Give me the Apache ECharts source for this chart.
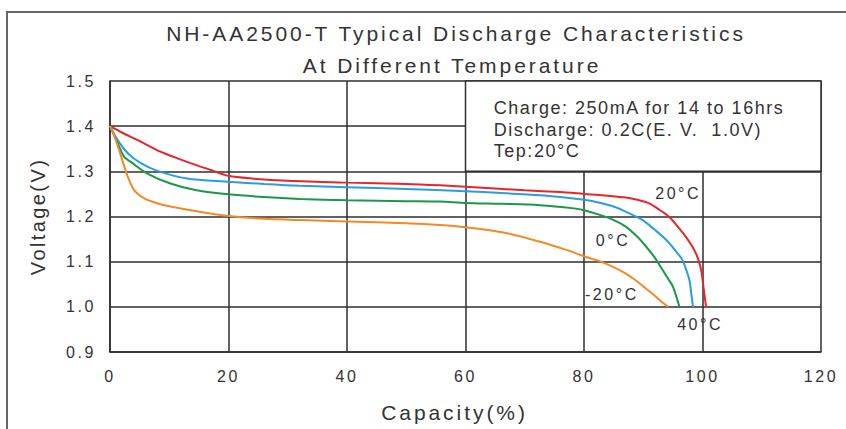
<!DOCTYPE html>
<html><head><meta charset="utf-8">
<script src="https://cdn.jsdelivr.net/npm/echarts@6/dist/echarts.min.js"></script>
<style>html,body{margin:0;padding:0;background:#fff}#c{width:846px;height:429px}</style>
</head><body><div id="c"></div>
<script>
// ---- data (capacity %, voltage V) ----
const xTicks = [0, 20, 40, 60, 80, 100, 120];
const yTicks = [0.9, 1.0, 1.1, 1.2, 1.3, 1.4, 1.5];

const curve20C = [[0,1.40],[2,1.386],[4.7,1.369],[8.6,1.343],[13,1.321],[17,1.303],[20,1.29],[24,1.284],[30,1.279],[40,1.275],[50,1.272],[55.7,1.269],[60,1.266],[70,1.258],[76,1.254],[80,1.25],[84,1.246],[87.1,1.242],[89,1.237],[91,1.229],[92.7,1.215],[94.4,1.199],[96,1.175],[97.2,1.155],[98.2,1.135],[98.9,1.118],[99.4,1.1],[99.8,1.08],[100.1,1.05],[100.4,1.02],[100.6,1.0]];
const curve40C = [[0,1.40],[1.3,1.369],[3,1.34],[5.2,1.318],[8,1.301],[13,1.284],[20,1.277],[26,1.272],[32,1.268],[40,1.265],[50,1.261],[60,1.256],[66,1.252],[72.6,1.247],[76,1.243],[80,1.237],[82.8,1.23],[85,1.222],[87,1.211],[89.9,1.192],[92,1.17],[93.9,1.148],[95.4,1.125],[96.6,1.104],[97.3,1.08],[97.8,1.059],[98.1,1.03],[98.4,1.0]];
const curve0C = [[0,1.40],[1.3,1.362],[2.4,1.332],[3.5,1.321],[6.3,1.295],[10.2,1.273],[14.6,1.258],[20,1.249],[26,1.243],[32,1.239],[40,1.236],[50,1.234],[55.7,1.233],[60,1.23],[66,1.228],[72.6,1.225],[78.3,1.218],[80,1.214],[82.8,1.203],[85,1.192],[87.1,1.177],[89,1.155],[90.5,1.133],[92,1.108],[93.3,1.081],[94.2,1.062],[95,1.045],[95.6,1.022],[96.1,1.0]];
const curveM20C = [[0,1.40],[0.8,1.376],[1.9,1.332],[3,1.288],[4.1,1.258],[5.8,1.24],[7.8,1.23],[10.2,1.222],[15.8,1.209],[20,1.201],[26,1.195],[32,1.192],[40,1.189],[50,1.185],[55.7,1.181],[60,1.176],[67,1.163],[72.6,1.144],[77,1.126],[80,1.112],[82.8,1.1],[85,1.088],[87,1.074],[89,1.056],[90.5,1.04],[92,1.024],[93.2,1.01],[94.2,1.0]];

const seriesNames = ['20°C', '40°C', '0°C', '-20°C'];
const seriesColors = ['#e5262b', '#2a9de2', '#1a9a48', '#f28a26'];
const labelPos = [[95.9, 1.252], [99.6, 0.960], [84.9, 1.146], [84.7, 1.028]];

const titleLines = ['NH-AA2500-T Typical Discharge Characteristics', 'At Different Temperature'];
const noteBox = [[60, 1.5], [120, 1.3]];
const noteLines = ['Charge: 250mA for 14 to 16hrs', 'Discharge: 0.2C(E. V.  1.0V)', 'Tep:20°C'];

const xName = 'Capacity(%)';
const yName = 'Voltage(V)';

// ---- chart ----
const FONT = '"Liberation Sans", Arial, Helvetica, sans-serif';
const GRID = '#2e2e2e';
const TXT = '#333';
const curves = [curve20C, curve40C, curve0C, curveM20C];

const chart = echarts.init(document.getElementById('c'), null, {renderer: 'svg'});

const series = curves.map((d, i) => ({
  name: seriesNames[i],
  type: 'line',
  data: d,
  smooth: 0.3,
  showSymbol: false,
  symbol: 'none',
  lineStyle: {color: seriesColors[i], width: 2},
  z: 3,
  markPoint: {
    symbol: 'circle', symbolSize: 0,
    label: {show: true, formatter: seriesNames[i], color: TXT, fontSize: 16, fontFamily: FONT},
    data: [{coord: labelPos[i]}]
  }
}));

series.push({
  type: 'line', data: [], silent: true, z: 2,
  markArea: {
    silent: true,
    itemStyle: {color: '#fff', borderColor: GRID, borderWidth: 1.5},
    label: {
      show: true, position: [29, 17], align: 'left', verticalAlign: 'top',
      color: TXT, fontSize: 18, lineHeight: 21.5, fontFamily: FONT,
      formatter: noteLines.join('\n')
    },
    data: [[{coord: noteBox[0]}, {coord: noteBox[1]}]]
  }
});

chart.setOption({
  animation: false,
  backgroundColor: '#fff',
  grid: {left: 110, right: 25, top: 81, bottom: 77},
  xAxis: {
    type: 'value', min: xTicks[0], max: xTicks[xTicks.length - 1], interval: 20,
    name: xName, nameLocation: 'middle', nameGap: 50,
    nameTextStyle: {fontSize: 21, color: TXT, fontFamily: FONT, padding: [0, 22, 0, 0]},
    axisLine: {show: true, lineStyle: {color: GRID, width: 1.5}},
    axisTick: {show: false},
    axisLabel: {margin: 16, fontSize: 16, color: TXT, fontFamily: FONT},
    splitLine: {show: true, lineStyle: {color: GRID, width: 1.5}}
  },
  yAxis: {
    type: 'value', min: yTicks[0], max: yTicks[yTicks.length - 1], interval: 0.1,
    name: yName, nameLocation: 'middle', nameGap: 62, nameRotate: 90,
    nameTextStyle: {fontSize: 20, color: TXT, fontFamily: FONT},
    axisLine: {show: true, lineStyle: {color: GRID, width: 1.5}},
    axisTick: {show: false},
    axisLabel: {margin: 14, fontSize: 16, color: TXT, fontFamily: FONT, formatter: v => v.toFixed(1)},
    splitLine: {show: true, lineStyle: {color: GRID, width: 1.5}}
  },
  graphic: [
    {type: 'rect', z: -10, silent: true, shape: {x: 7, y: 12, width: 900, height: 500},
     style: {fill: 'none', stroke: '#666', lineWidth: 2}},
    {type: 'text', x: 456, y: 33, silent: true,
     style: {text: titleLines[0], fill: TXT, font: '21px ' + FONT, textAlign: 'center', textVerticalAlign: 'middle'}},
    {type: 'text', x: 452, y: 65, silent: true,
     style: {text: titleLines[1], fill: TXT, font: '21px ' + FONT, textAlign: 'center', textVerticalAlign: 'middle'}}
  ],
  series: series
});

// widen letter spacing to match the reference's broad lettering
const spacing = {21: 0.14, 20: 0.12, 18: 0.085, 16: 0.16};
function applySpacing() {
  document.querySelectorAll('#c text').forEach(t => {
    const fs = Math.round(parseFloat(getComputedStyle(t).fontSize));
    const em = spacing[fs] !== undefined ? spacing[fs] : 0.1;
    t.style.letterSpacing = (fs * em).toFixed(2) + 'px';
  });
}
chart.on('finished', applySpacing);
applySpacing();
setTimeout(applySpacing, 50);
</script>
</body></html>
